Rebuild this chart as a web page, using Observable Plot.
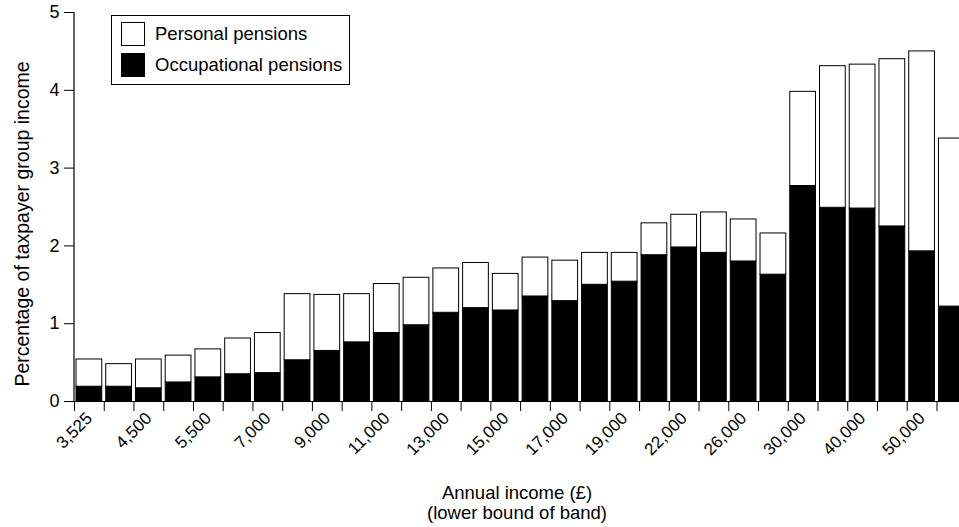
<!DOCTYPE html>
<html>
<head>
<meta charset="utf-8">
<script src="https://cdn.jsdelivr.net/npm/d3@7"></script>
<script src="https://cdn.jsdelivr.net/npm/@observablehq/plot@0.6"></script>
<style>
  html, body { margin: 0; padding: 0; background: #fff; }
  #wrap { position: relative; width: 959px; height: 527px; overflow: hidden; font-family: "Liberation Sans", Arial, sans-serif; }
  #legend { position: absolute; left: 111px; top: 15px; width: 239px; height: 70px; border: 1px solid #000; background: #fff; box-sizing: border-box; }
  .item { position: absolute; left: 9px; height: 24px; display: flex; align-items: center; font-size: 18.5px; color: #000; white-space: nowrap; }
  .sw { width: 24px; height: 24px; border: 1px solid #000; box-sizing: border-box; margin-right: 10px; flex: none; }
</style>
</head>
<body>
<div id="wrap">
  <div id="chart"></div>
  <div id="legend">
    <div class="item" style="top:6px"><div class="sw" style="background:#fff"></div><span>Personal pensions</span></div>
    <div class="item" style="top:37px"><div class="sw" style="background:#000"></div><span>Occupational pensions</span></div>
  </div>
</div>
<script>
// Income bands: lower-bound labels shown on every other band
const bandLabels = ["3,525","4,500","5,500","7,000","9,000","11,000","13,000","15,000","17,000","19,000","22,000","26,000","30,000","40,000","50,000"];
// Total (occupational + personal) percentage of taxpayer group income, per band
const totalPct = [0.54,0.48,0.54,0.59,0.67,0.81,0.88,1.38,1.37,1.38,1.51,1.59,1.71,1.78,1.64,1.85,1.81,1.91,1.91,2.29,2.40,2.43,2.34,2.16,3.98,4.31,4.33,4.40,4.50,3.38];
// Occupational pensions percentage, per band
const occPct = [0.19,0.19,0.17,0.245,0.31,0.35,0.365,0.53,0.65,0.76,0.88,0.98,1.14,1.20,1.17,1.35,1.29,1.50,1.54,1.88,1.98,1.91,1.80,1.63,2.77,2.49,2.48,2.25,1.93,1.22];
const yTicks = [0, 1, 2, 3, 4, 5];

const rows = [];
totalPct.forEach((t, i) => {
  rows.push({band: i, type: "Occupational pensions", v: occPct[i]});
  rows.push({band: i, type: "Personal pensions", v: +(t - occPct[i]).toFixed(3)});
});

const font = "'Liberation Sans', Arial, sans-serif";
const chart = Plot.plot({
  width: 959,
  height: 527,
  marginLeft: 74,
  marginTop: 12,
  marginBottom: 126,
  marginRight: 0,
  style: {fontFamily: font, fontSize: "17px", color: "#000", background: "#fff"},
  x: {domain: [0, 30], range: [74, 74 + 30 * 29.74]},
  y: {domain: [0, 5]},
  color: {domain: ["Occupational pensions", "Personal pensions"], range: ["#000", "#fff"]},
  marks: [
    Plot.rectY(rows, Plot.stackY({
      x1: "band", x2: d => d.band + 1, y: "v", fill: "type",
      order: ["Occupational pensions", "Personal pensions"],
      stroke: "#000", strokeWidth: 1, insetLeft: 2, insetRight: 2
    })),
    Plot.ruleY([0], {stroke: "#000", strokeWidth: 1.2}),
    Plot.ruleX([0], {stroke: "#000", strokeWidth: 1.2, dx: -0.5}),
    Plot.axisY({ticks: yTicks, tickSize: 10, tickPadding: 5, fontSize: 18, label: null, tickFormat: d3.format("d")}),
    Plot.axisX({ticks: d3.range(0, 31), tickSize: 10, tickFormat: () => "", label: null}),
    Plot.axisX({ticks: bandLabels.map((_, k) => 2 * k + 0.5), tickSize: 0, tickPadding: 14, tickRotate: -45, fontSize: 17,
      tickFormat: d => bandLabels[(d - 0.5) / 2], label: null}),
    Plot.text(["Annual income (£)\n(lower bound of band)"], {frameAnchor: "bottom", lineAnchor: "middle", dy: 101, fontSize: 18.5, lineHeight: 1.1, textAnchor: "middle"}),
    Plot.text(["Percentage of taxpayer group income"], {frameAnchor: "left", textAnchor: "middle", lineAnchor: "middle", dx: -52, dy: 17, rotate: -90, fontSize: 19.5})
  ]
});
document.getElementById("chart").appendChild(chart);
</script>
</body>
</html>
